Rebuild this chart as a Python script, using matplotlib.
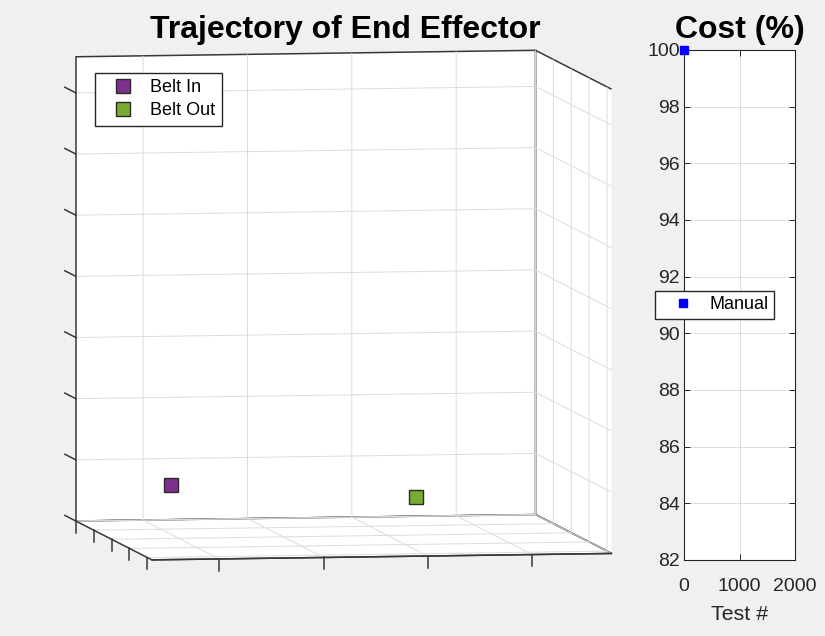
import numpy as np
import matplotlib
matplotlib.use("Agg")
import matplotlib.pyplot as plt
from mpl_toolkits.mplot3d import proj3d

# ---------------- data ----------------
belt_in_x = [-0.22]
belt_in_y = [-0.03]
belt_in_z = [0.09]
belt_out_x = [0.25]
belt_out_y = [-0.03]
belt_out_z = [0.065]

x_ticks = [-0.2, 0.0, 0.2, 0.4]
y_ticks = [-0.4, -0.2, 0.0, 0.2, 0.4]
z_ticks = [0.0, 0.1, 0.2, 0.3, 0.4, 0.5, 0.6, 0.7]
x_lim = (-0.329, 0.552)
y_lim = (-0.451, 0.4)
z_lim = (0.0, 0.759)

manual_test = [0]
manual_cost = [100]
cost_ticks = [82, 84, 86, 88, 90, 92, 94, 96, 98, 100]
test_ticks = [0, 1000, 2000]

purple = '#7E2F8E'
green = '#77AC30'
dark = '#262626'
edge = '#383838'

W, H = 825, 636
plt.rcParams['font.family'] = ['Liberation Sans', 'DejaVu Sans']
plt.rcParams['grid.color'] = '#DCDCDC'
plt.rcParams['grid.linewidth'] = 0.7

fig = plt.figure(figsize=(W / 100, H / 100), dpi=100, facecolor='#F0F0F0')

# ---------------- 3D axes ----------------
ax = fig.add_axes([0.05, 0.1, 0.6, 0.8], projection='3d', proj_type='ortho')
ax.view_init(elev=4.85, azim=-99.4)
ax.set_box_aspect((1, 1, 1))
ax.set_facecolor('none')
ax.set_xlim(*x_lim)
ax.set_ylim(*y_lim)
ax.set_zlim(*z_lim)
ax.set_xticks(x_ticks)
ax.set_yticks(y_ticks)
ax.set_zticks(z_ticks)
ax.set_xticklabels([])
ax.set_yticklabels([])
ax.set_zticklabels([])
# tick direction: x and y ticks hang downwards, z ticks point backwards
tick_dirs = {ax.xaxis: (2, 0.32), ax.yaxis: (2, 0.32), ax.zaxis: (1, 1.8)}
for axis, (tdir, tlen) in tick_dirs.items():
    axis.set_pane_color((1, 1, 1, 1))
    axis.pane.set_edgecolor(edge)
    axis.pane.set_linewidth(1.1)
    axis.line.set_color(edge)
    axis.line.set_linewidth(1.1)
    axis._axinfo['tick']['inward_factor'] = 0.0
    axis._axinfo['tick']['outward_factor'] = tlen
    axis._axinfo['tick']['linewidth'] = {True: 1.1, False: 0.5}
    axis._axinfo['tick']['color'] = edge
    axis._get_tickdir = (lambda position, d=tdir: d)
ax.tick_params(colors=edge)

h_in, = ax.plot(belt_in_x, belt_in_y, belt_in_z, 's', color=purple, ms=9.5,
                mec='#2a2a2a', mew=1.0, label='Belt In')
h_out, = ax.plot(belt_out_x, belt_out_y, belt_out_z, 's', color=green, ms=9.5,
                 mec='#2a2a2a', mew=1.0, label='Belt Out')

# ---- place the 3D box so its corners land where the reference has them ----
fig.canvas.draw()
corner3d = [(x_lim[0], y_lim[1], z_lim[1]), (x_lim[1], y_lim[1], z_lim[1]),
            (x_lim[0], y_lim[0], z_lim[0]), (x_lim[1], y_lim[0], z_lim[0]),
            (x_lim[0], y_lim[1], z_lim[0]), (x_lim[1], y_lim[1], z_lim[0])]
target_px = [(75, 57), (535, 52), (152, 560), (614, 553), (75, 521), (535, 513)]
M = ax.get_proj()
P = []
for c in corner3d:
    xs, ys, _ = proj3d.proj_transform(c[0], c[1], c[2], M)
    P.append(ax.transData.transform((xs, ys)))
P = np.array(P)
T = np.array([(tx, H - ty) for tx, ty in target_px], dtype=float)
Pc = P - P.mean(axis=0)
Tc = T - T.mean(axis=0)
k = (Pc * Tc).sum() / (Pc * Pc).sum()
b = T.mean(axis=0) - k * P.mean(axis=0)
bb = ax.get_position()
x0, y0, w, h = bb.x0 * W, bb.y0 * H, bb.width * W, bb.height * H
ax.set_position([(k * x0 + b[0]) / W, (k * y0 + b[1]) / H, k * w / W, k * h / H])

fig.legend(handles=[h_in, h_out], loc='upper left',
           bbox_to_anchor=(95 / W, 1 - 73 / H), bbox_transform=fig.transFigure,
           fontsize=13, frameon=True, fancybox=False, edgecolor=dark,
           framealpha=1, borderpad=0.35, handlelength=2.45, handletextpad=0.25,
           labelspacing=0.33, borderaxespad=0)

fig.text(345.5 / W, 1 - 38 / H, 'Trajectory of End Effector', ha='center',
         va='baseline', fontsize=23, fontweight='bold', color='black')

# ---------------- 2D cost axes ----------------
ax2 = fig.add_axes([684 / W, 1 - 560 / H, (795 - 684) / W, (560 - 50) / H])
ax2.plot(manual_test, manual_cost, 's', color='#0000FF', ms=5.8, clip_on=False,
         label='Manual', zorder=5)
ax2.set_xlim(0, 2000)
ax2.set_ylim(82, 100)
ax2.set_xticks(test_ticks)
ax2.set_yticks(cost_ticks)
ax2.grid(True, color='#DCDCDC', linewidth=0.7)
ax2.set_axisbelow(True)
for s in ax2.spines.values():
    s.set_color(dark)
    s.set_linewidth(0.8)
ax2.tick_params(direction='in', length=4, width=0.7, colors=dark,
                labelsize=14, top=True, right=True, pad=3)
ax2.tick_params(axis='x', pad=13)
ax2.set_xlabel('Test #', fontsize=15.4, color=dark, labelpad=7)
fig.text(740 / W, 1 - 38 / H, 'Cost (%)', ha='center', va='baseline',
         fontsize=23, fontweight='bold', color='black')
ax2.legend(loc='upper left', bbox_to_anchor=(655 / W, 1 - 291 / H),
           bbox_transform=fig.transFigure, fontsize=13, frameon=True,
           fancybox=False, edgecolor=dark, framealpha=1, borderpad=0.3,
           handlelength=2.5, handletextpad=0.2, borderaxespad=0)

fig.savefig('out.png', dpi=100, facecolor=fig.get_facecolor())
